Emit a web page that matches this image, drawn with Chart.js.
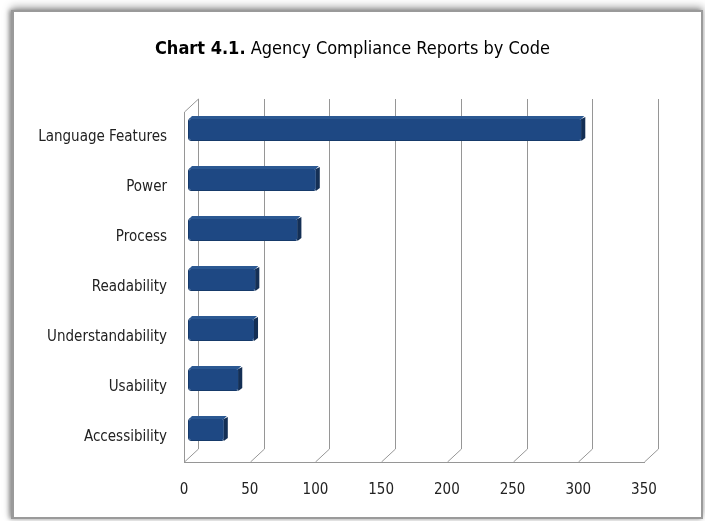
<!DOCTYPE html>
<html lang="en">
<head>
  <meta charset="UTF-8">
  <title>Agency Compliance Reports by Code</title>
  <script src="https://cdn.jsdelivr.net/npm/chart.js"></script>
  <style>
    html, body { margin: 0; padding: 0; background: #fff; }
    body { width: 705px; height: 521px; position: relative; overflow: hidden; }
    #frame {
      position: absolute; left: 11px; top: 10px; width: 687px; height: 505px;
      border: 2px solid #9a9a9a; border-left-width: 3px; background: #fff;
      box-shadow: 0 -3px 8px rgba(0,0,0,0.35), -2px 0 4px rgba(0,0,0,0.3);
    }
    #chart { position: absolute; left: 0; top: 0; }
    #title {
      position: absolute; left: 0; width: 705px; top: 37px; text-align: center;
      font-family: 'Liberation Sans Narrow', 'DejaVu Sans Condensed', sans-serif;
      font-size: 18px; color: #000;
    }
  </style>
</head>
<body>

<div id="frame"></div>
<canvas id="chart" width="705" height="521"></canvas>
<div id="title"><b>Chart 4.1.</b> Agency Compliance Reports by Code</div>

<script>
  const categories = ['Language Features', 'Power', 'Process', 'Readability', 'Understandability', 'Usability', 'Accessibility'];
  const reports = [300, 98, 84, 52, 51, 39, 28];
  const xMin = 0, xMax = 350, xStep = 50;

  const FONT = "'Liberation Sans Narrow', 'DejaVu Sans Condensed', sans-serif";
  const DX = 14, DY = -13;          // depth of the back wall
  const BAR_DX = 4, BAR_DY = -7.5;  // bars sit a little behind the front edge
  const LINE = '#969696';

  // back wall, floor diagonals, then shift the bars into the depth
  const wall3d = {
    id: 'wall3d',
    beforeDatasetsDraw(chart) {
      const { ctx, chartArea: a, scales: { x } } = chart;
      ctx.save();
      ctx.strokeStyle = LINE;
      ctx.lineWidth = 1;
      ctx.beginPath();
      x.ticks.forEach(t => {
        const px = Math.round(x.getPixelForValue(t.value)) + 0.5;
        ctx.moveTo(px + DX, a.top + DY);
        ctx.lineTo(px + DX, a.bottom + DY);
        ctx.lineTo(px, a.bottom);
      });
      ctx.moveTo(a.left + 0.5, a.top);
      ctx.lineTo(a.left + 0.5 + DX, a.top + DY);
      ctx.stroke();
      ctx.restore();

      ctx.save();
      ctx.translate(BAR_DX, BAR_DY);
    },
    afterDatasetsDraw(chart) {
      const ctx = chart.ctx;
      chart.getDatasetMeta(0).data.forEach(bar => {
        const { x, y, height } = bar.getProps(['x', 'y', 'height'], true);
        const top = y - height / 2, bottom = y + height / 2, d = 3;
        // right side
        ctx.fillStyle = '#142f55';
        ctx.beginPath();
        ctx.moveTo(x - 1, top + 1);
        ctx.lineTo(x + d, top - d + 2);
        ctx.lineTo(x + d, bottom - d);
        ctx.lineTo(x - 1, bottom);
        ctx.closePath();
        ctx.fill();
        // top face
        ctx.fillStyle = '#2b5892';
        ctx.beginPath();
        ctx.moveTo(bar.base + 1, top + 1);
        ctx.lineTo(bar.base + d + 1, top - d + 1);
        ctx.lineTo(x + d - 1, top - d + 1);
        ctx.lineTo(x - 1, top + 1);
        ctx.closePath();
        ctx.fill();
      });
      ctx.restore();
    }
  };

  new Chart(document.getElementById('chart').getContext('2d'), {
    type: 'bar',
    data: {
      labels: categories,
      datasets: [{
        data: reports,
        backgroundColor: '#1e4883',
        borderColor: '#163a6a',
        borderWidth: 1,
        borderRadius: 3,
        borderSkipped: false,
        barPercentage: 0.46,
        categoryPercentage: 1,
        clip: false
      }]
    },
    options: {
      indexAxis: 'y',
      responsive: false,
      animation: false,
      layout: { padding: { top: 112, right: 61, bottom: 19, left: 0 } },
      plugins: {
        legend: { display: false },
        tooltip: { enabled: false }
      },
      scales: {
        x: {
          min: xMin, max: xMax,
          grid: { display: false, drawTicks: false },
          border: { display: true, color: LINE, width: 1 },
          ticks: { stepSize: xStep, padding: 19, color: '#222', font: { family: FONT, size: 15 } },
          afterFit: s => { s.height = 40; }
        },
        y: {
          grid: { display: false, drawTicks: false },
          border: { display: true, color: LINE, width: 1 },
          ticks: { padding: 17, color: '#222', font: { family: FONT, size: 15 } },
          afterFit: s => { s.width = 184; }
        }
      }
    },
    plugins: [wall3d]
  });
</script>
</body>
</html>
